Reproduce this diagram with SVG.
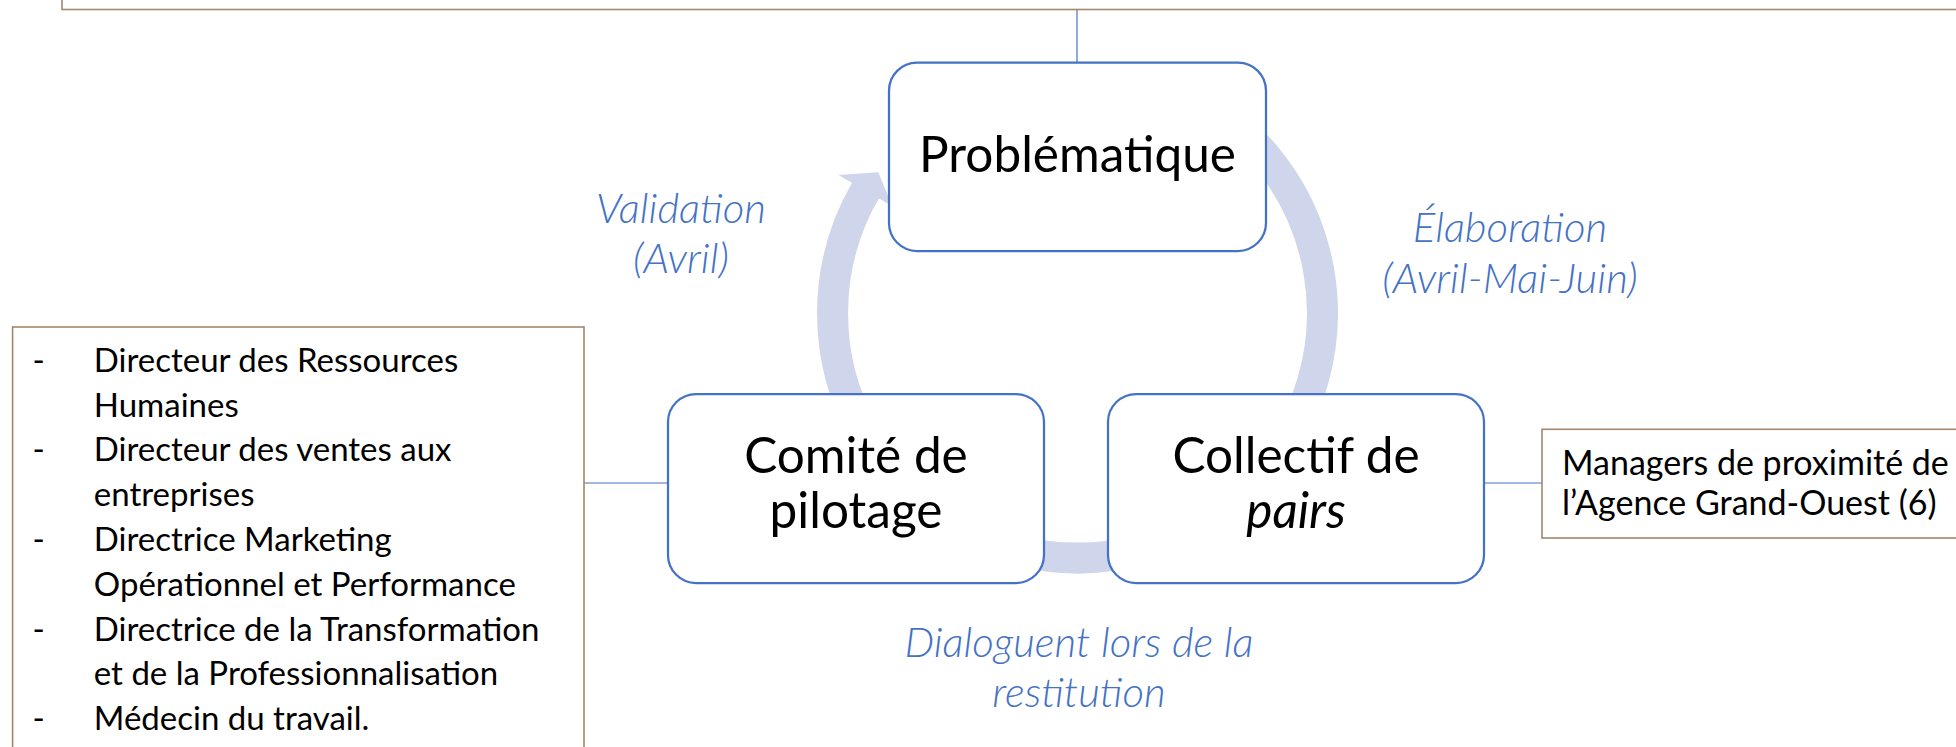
<svg xmlns="http://www.w3.org/2000/svg" width="1956" height="747" viewBox="0 0 1956 747">
  <style>
    .box { fill: #FFFFFF; stroke: #4472C4; stroke-width: 2.25; }
    .note { fill: #FFFFFF; stroke: #A5866A; stroke-width: 1.6; }
    .band { fill: none; stroke: #CFD5EA; stroke-width: 31; stroke-linecap: butt; }
    .head { fill: #CFD5EA; stroke: none; }
    .conn { fill: none; stroke: #4472C4; stroke-width: 1.2; }
    .main { font-family: Lato, "Liberation Sans", sans-serif; font-size: 49.5px; fill: #000000; text-anchor: middle; }
    .lab { font-family: Lato, "Liberation Sans", sans-serif; font-size: 42px; font-style: italic; font-weight: 300; fill: #4472C4; text-anchor: middle; }
    .txt { font-family: Lato, "Liberation Sans", sans-serif; font-size: 34px; fill: #000000; }
    .ltxt { font-family: Lato, "Liberation Sans", sans-serif; font-size: 33px; fill: #000000; }
  </style>
  <rect width="1956" height="747" fill="#FFFFFF"/>

  <g id="cycle-arrows">
    <path class="band" d="M 1200 101 A 245 245 0 0 1 1265.2 470.5"/>
    <path class="band" d="M 1141 549.6 A 245 245 0 0 1 1014 549.6"/>
    <path class="band" d="M 865.3 435.5 A 245 245 0 0 1 865.6 190.3"/>
    <polygon class="head" points="851.9,182.8 838.5,175 878.3,172.3 892.2,206 878.7,198.3 876,203 855,190"/>
  </g>

  <g id="connectors">
    <line class="conn" x1="1077" y1="10" x2="1077" y2="63"/>
    <line class="conn" x1="584" y1="483" x2="668" y2="483"/>
    <line class="conn" x1="1484" y1="483" x2="1542" y2="483"/>
  </g>

  <g id="top-note">
    <rect class="note" x="62" y="-100" width="2000" height="109.5"/>
  </g>

  <g id="node-problematique">
    <rect class="box" x="889" y="62.7" width="377" height="188.3" rx="28" ry="28"/>
    <text class="main" x="1077.5" y="171.7">Problématique</text>
  </g>

  <g id="node-comite">
    <rect class="box" x="668" y="394" width="376" height="189" rx="28" ry="28"/>
    <text class="main" x="856" y="473.3">Comité de</text>
    <text class="main" x="856" y="528.3">pilotage</text>
  </g>

  <g id="node-collectif">
    <rect class="box" x="1108" y="394" width="376" height="189" rx="28" ry="28"/>
    <text class="main" x="1296" y="473.3">Collectif de</text>
    <text class="main" x="1296" y="528.3" font-style="italic">pairs</text>
  </g>

  <g id="label-validation">
    <text class="lab" x="681" y="222.7">Validation</text>
    <text class="lab" x="681" y="273">(Avril)</text>
  </g>

  <g id="label-elaboration">
    <text class="lab" x="1510" y="241.7">Élaboration</text>
    <text class="lab" x="1510" y="292.7">(Avril-Mai-Juin)</text>
  </g>

  <g id="label-dialogue">
    <text class="lab" x="1079" y="657">Dialoguent lors de la</text>
    <text class="lab" x="1079" y="707">restitution</text>
  </g>

  <g id="note-comite-members">
    <rect class="note" x="12.6" y="327" width="571.4" height="500"/>
    <text class="ltxt" x="32.5" y="371.7">-</text>
    <text class="ltxt" x="93.8" y="371.7">Directeur des Ressources</text>
    <text class="ltxt" x="93.8" y="416.5">Humaines</text>
    <text class="ltxt" x="32.5" y="461.3">-</text>
    <text class="ltxt" x="93.8" y="461.3">Directeur des ventes aux</text>
    <text class="ltxt" x="93.8" y="506.1">entreprises</text>
    <text class="ltxt" x="32.5" y="550.9">-</text>
    <text class="ltxt" x="93.8" y="550.9">Directrice Marketing</text>
    <text class="ltxt" x="93.8" y="595.7">Opérationnel et Performance</text>
    <text class="ltxt" x="32.5" y="640.5">-</text>
    <text class="ltxt" x="93.8" y="640.5">Directrice de la Transformation</text>
    <text class="ltxt" x="93.8" y="685.3">et de la Professionnalisation</text>
    <text class="ltxt" x="32.5" y="730.1">-</text>
    <text class="ltxt" x="93.8" y="730.1">Médecin du travail.</text>
  </g>

  <g id="note-pairs-members">
    <rect class="note" x="1542" y="429.3" width="500" height="108.7"/>
    <text class="txt" x="1562" y="475">Managers de proximité de</text>
    <text class="txt" x="1562" y="515">l’Agence Grand-Ouest (6)</text>
  </g>
</svg>
